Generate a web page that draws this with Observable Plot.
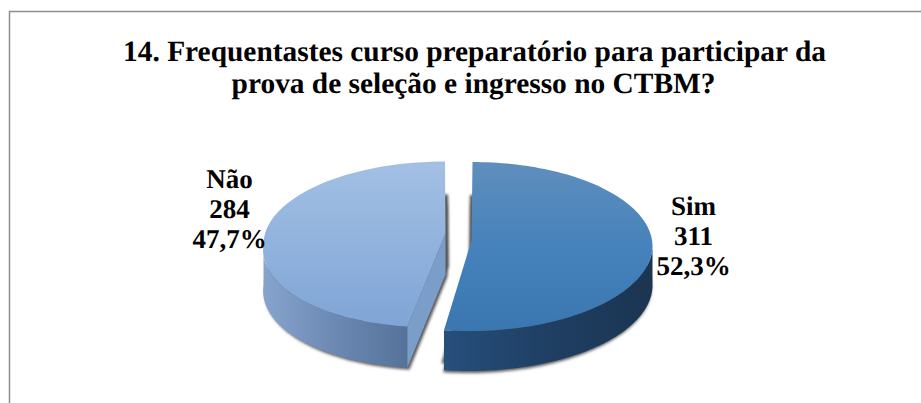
<!DOCTYPE html>
<html>
<head>
<meta charset="utf-8">
<script src="https://cdn.jsdelivr.net/npm/d3@7"></script>
<script src="https://cdn.jsdelivr.net/npm/@observablehq/plot@0.6"></script>
<style>
html,body{margin:0;padding:0;background:#fff}
svg{display:block;text-rendering:geometricPrecision}
</style>
</head>
<body>
<div id="chart"></div>
<script>
const categories = ["Sim", "Não"];
const counts = [311, 284];
const percents = ["52,3%", "47,7%"];
const titleLines = ["14. Frequentastes curso preparatório para participar da", "prova de seleção e ingresso no CTBM?"];

const total = d3.sum(counts);
const splitAngle = counts[0] / total * 2 * Math.PI;
const TAU = 2 * Math.PI;

// 3D projection parameters of each exploded slice
const simGeom = {cx: 472, cy: 246, rx: 180, ry: 84.5, depth: 40, shear: -3 / 85, apexX: 471, apexY: 240};
const naoGeom = {cx: 444.5, cy: 244, rx: 181.5, ry: 83, depth: 41, shear: -12 / 83, apexX: 445, apexY: 233};

function rimPoint(g, t, dy = 0, dx = 0) {
  const y = -Math.cos(t);
  const bend = y > 0 ? g.shear * y * g.ry : 0;
  return {x: g.cx + g.rx * Math.sin(t) + bend + dx, y: g.cy + g.ry * y + dy};
}
function rim(g, t0, t1, dy = 0, dx = 0) {
  return d3.range(0, 121).map(i => rimPoint(g, t0 + (t1 - t0) * i / 120, dy, dx));
}
function sector(g, t0, t1, dy = 0, dx = 0) {
  return [{x: g.apexX + dx, y: g.apexY + dy}, ...rim(g, t0, t1, dy, dx)];
}
function side(g, t0, t1) {
  return [...rim(g, t0, t1), ...rim(g, t1, t0, g.depth)];
}

const simTop = sector(simGeom, 0, splitAngle);
const simSide = side(simGeom, Math.PI / 2, splitAngle);
const naoTop = sector(naoGeom, splitAngle, TAU);
const naoSide = side(naoGeom, splitAngle, 1.5 * Math.PI);
const naoEnd = rimPoint(naoGeom, splitAngle);
const naoCut = [
  {x: naoGeom.apexX, y: naoGeom.apexY},
  naoEnd,
  {x: naoEnd.x, y: naoEnd.y + naoGeom.depth},
  {x: naoGeom.apexX, y: naoGeom.apexY + naoGeom.depth}
];

function gradient(id, stops, vertical) {
  const g = document.createElementNS("http://www.w3.org/2000/svg", "linearGradient");
  g.setAttribute("id", id);
  g.setAttribute("x1", 0); g.setAttribute("y1", 0);
  g.setAttribute("x2", vertical ? 0 : 1); g.setAttribute("y2", vertical ? 1 : 0);
  stops.forEach(([o, c]) => {
    const s = document.createElementNS("http://www.w3.org/2000/svg", "stop");
    s.setAttribute("offset", o); s.setAttribute("stop-color", c);
    g.appendChild(s);
  });
  return g;
}
const defs = () => {
  const d = document.createElementNS("http://www.w3.org/2000/svg", "defs");
  d.appendChild(gradient("simTopFill", [[0, "#5f8ebd"], [0.5, "#4682bb"], [1, "#3a76b0"]], true));
  d.appendChild(gradient("simSideFill", [[0, "#264f7b"], [0.5, "#1f3f63"], [1, "#1b3552"]], false));
  d.appendChild(gradient("naoTopFill", [[0, "#a3c0e4"], [1, "#7fa5d6"]], true));
  d.appendChild(gradient("naoSideFill", [[0, "#86a4ce"], [0.5, "#6b89b3"], [1, "#55729a"]], false));
  return d;
};

const poly = (pts, fill, extra = {}) => Plot.line(pts, {x: "x", y: "y", fill, stroke: "none", ...extra});
const shadow = {imageFilter: "blur(1.5px)"};

const serif = {fontFamily: "Liberation Serif", fontWeight: "bold", fill: "#000", textAnchor: "middle"};
const labelRows = categories.map((c, i) => ({text: `${c}\n${counts[i]}\n${percents[i]}`}));

const chart = Plot.plot({
  width: 921,
  height: 403,
  marginTop: 0, marginLeft: 0, marginRight: 0, marginBottom: 0,
  style: {background: "#fff"},
  x: {domain: [0, 921], range: [0, 921], axis: null},
  y: {domain: [0, 403], range: [0, 403], axis: null},
  marks: [
    defs,
    Plot.ruleY([11], {x1: 9, x2: 921, stroke: "#8e8e8e", strokeWidth: 1.5}),
    Plot.ruleX([9], {y1: 11, y2: 403, stroke: "#8e8e8e", strokeWidth: 1.5}),
    // soft shadows behind the slices
    poly(sector(naoGeom, splitAngle, TAU, 33, 3), "#4a4a4a", shadow),
    poly(sector(naoGeom, splitAngle, TAU, 43, 2), "#5a5a5a", shadow),
    poly(sector(simGeom, 0, splitAngle, 33, -2.5), "#4a4a4a", shadow),
    poly(sector(simGeom, 0, splitAngle, 42, -1), "#5a5a5a", shadow),
    // Não
    poly(naoSide, "url(#naoSideFill)"),
    poly(naoCut, "#7b9dc9"),
    poly(naoTop, "url(#naoTopFill)"),
    // Sim
    poly(simSide, "url(#simSideFill)"),
    poly(simTop, "url(#simTopFill)"),
    // labels
    Plot.text([labelRows[1]], {text: "text", x: () => 229, y: () => 208, fontSize: 27, lineHeight: 1.115, ...serif}),
    Plot.text([labelRows[0]], {text: "text", x: () => 693, y: () => 234.5, fontSize: 27, lineHeight: 1.115, ...serif}),
    // title
    Plot.text([titleLines[0]], {text: d => d, x: () => 474, y: () => 50.6, fontSize: 29.4, ...serif}),
    Plot.text([titleLines[1]], {text: d => d, x: () => 473, y: () => 83.3, fontSize: 29.4, ...serif})
  ]
});
document.getElementById("chart").appendChild(chart);
</script>
</body>
</html>
